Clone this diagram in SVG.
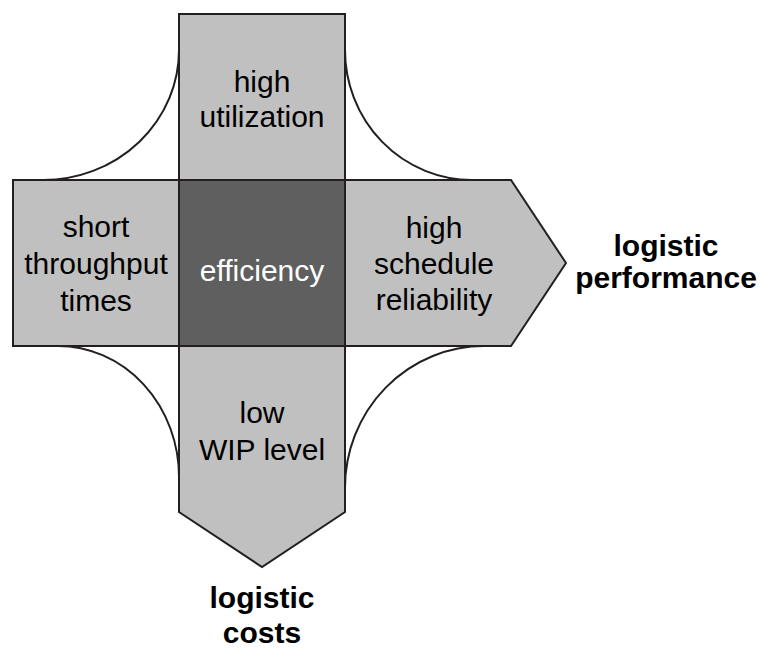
<svg xmlns="http://www.w3.org/2000/svg" width="760" height="648" viewBox="0 0 760 648">
<style>
.bar{fill:#c0c0c0;stroke:#231f20;stroke-width:2;stroke-linejoin:miter}
.core{fill:#5e5f5e;stroke:#231f20;stroke-width:2}
.arc{fill:none;stroke:#231f20;stroke-width:2}
text{font-family:"Liberation Sans",Arial,sans-serif;font-size:30px;text-anchor:middle;fill:#000}
.w{fill:#fff}
.b{font-weight:bold}
</style>
<rect width="760" height="648" fill="#fff"/>
<g id="connectors">
<path class="arc" d="M179,50 A136,130 0 0 1 43,180"/>
<path class="arc" d="M345,50 A127,130 0 0 0 472,180"/>
<path class="arc" d="M58,346 A121,131 0 0 1 179,477"/>
<path class="arc" d="M484,346 A139,142 0 0 0 345,488"/>
</g>
<g id="vertical-bar">
<polygon class="bar" points="179,14 345,14 345,512 262,567 179,512"/>
</g>
<g id="horizontal-bar">
<polygon class="bar" points="13,180 511,180 566,263 511,346 13,346"/>
</g>
<g id="high-utilization">
<text x="262" y="92">high</text>
<text x="262" y="127">utilization</text>
</g>
<g id="short-throughput-times">
<text x="96" y="237">short</text>
<text x="96" y="274">throughput</text>
<text x="96" y="311">times</text>
</g>
<g id="high-schedule-reliability">
<text x="434" y="238">high</text>
<text x="434" y="274">schedule</text>
<text x="434" y="310">reliability</text>
</g>
<g id="low-wip-level">
<text x="262" y="423">low</text>
<text x="262" y="460">WIP level</text>
</g>
<g id="efficiency">
<rect class="core" x="179" y="180" width="166" height="166"/>
<text class="w" x="262" y="281">efficiency</text>
</g>
<g id="logistic-performance">
<text class="b" x="666" y="256">logistic</text>
<text class="b" x="666" y="288">performance</text>
</g>
<g id="logistic-costs">
<text class="b" x="262" y="608">logistic</text>
<text class="b" x="262" y="643">costs</text>
</g>
</svg>
